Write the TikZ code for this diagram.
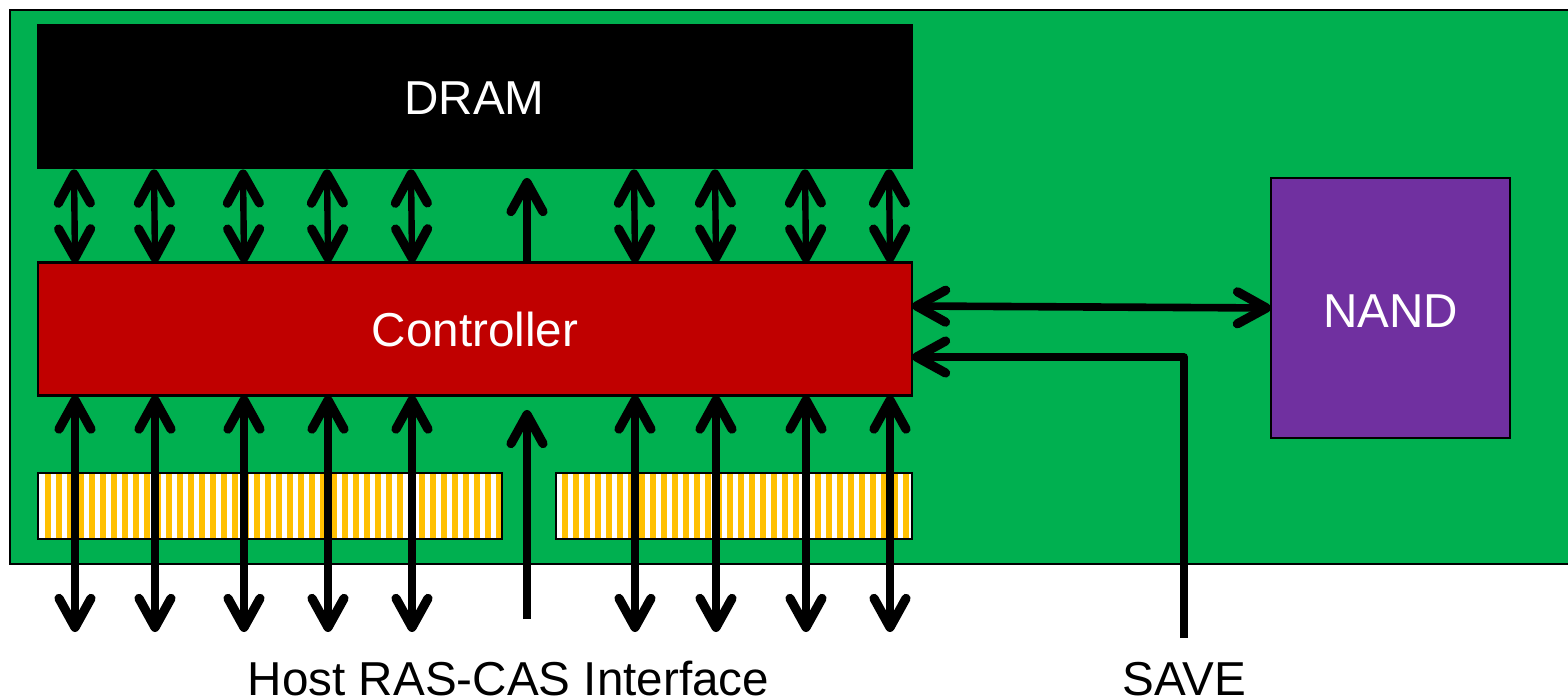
\documentclass[tikz,border=0pt]{standalone}
\usepackage{fontspec}
\setmainfont{Liberation Sans}
\usetikzlibrary{arrows.meta,calc}
\definecolor{boardgreen}{HTML}{00B050}
\definecolor{ctrlred}{HTML}{C00000}
\definecolor{nandpurple}{HTML}{7030A0}
\definecolor{pinorange}{HTML}{FFC000}
\tikzset{
  blockbox/.style={draw=black,line width=1.1pt,inner sep=0pt,outer sep=0pt,text=white,font=\fontsize{23.8}{28}\selectfont,anchor=center,text depth=0pt},
  pinbox/.style={inner sep=0pt,outer sep=0pt,anchor=center,fill=white},
  label/.style={inner sep=0pt,outer sep=0pt,text=black,font=\fontsize{23.8}{28}\selectfont,anchor=base},
  barb/.tip={Straight Barb[length=14.5pt,width=16pt,line width=4.6pt,round,sep=0pt]},
  conn/.style={line width=3.8pt,line join=round},
  short/.style={line width=3.2pt},
  single/.style={conn,-{barb}},
  double/.style={conn,{barb}-{barb}}
}
\begin{document}
\begin{tikzpicture}[x=0.5pt,y=-0.5pt]
\useasboundingbox (0,0) rectangle (1568,699);
% board
\node[blockbox,fill=boardgreen,minimum width=800pt,minimum height=277pt,anchor=north west] (board) at (10,10) {};
% blocks
\node[blockbox,fill=black,draw=none,minimum width=438pt,minimum height=72.5pt,text height=17.5pt] (dram) at (474.5,97) {DRAM};
\node[blockbox,fill=ctrlred,minimum width=437pt,minimum height=66.5pt,text height=17.7pt] (ctrl) at (475,329) {Controller};
\node[blockbox,fill=nandpurple,minimum width=119.5pt,minimum height=130pt,text height=19.2pt] (nand) at (1390.5,308) {NAND};
% pin strips
\node[pinbox,minimum width=232pt,minimum height=33pt] (pinl) at (270,506) {};
\node[pinbox,minimum width=178pt,minimum height=33pt] (pinr) at (734,506) {};
\begin{scope}
  \clip (pinl.north west) rectangle (pinl.south east);
  \foreach \i in {0,...,42} \fill[pinorange] ({45+11*\i},473) rectangle ({50.6+11*\i},539);
\end{scope}
\begin{scope}
  \clip (pinr.north west) rectangle (pinr.south east);
  \foreach \i in {0,...,32} \fill[pinorange] ({562.4+11*\i},473) rectangle ({568+11*\i},539);
\end{scope}
\draw[line width=1.1pt] (pinl.north west) rectangle (pinl.south east);
\draw[line width=1.1pt] (pinr.north west) rectangle (pinr.south east);
% connectors
\foreach \n/\xa/\xb in {a/74/75,b/154/155,c/243/244,d/327/328,e/411/412,f/634/635,g/715/716,h/805/806,i/889/890}{
  \coordinate (top\n) at (\xa,0);
  \coordinate (bot\n) at (\xb,0);
  \coordinate (out\n) at (\xb,632);
  \draw[double,short] (dram.south -| top\n) -- (ctrl.north -| bot\n);
  \draw[double] (ctrl.south -| bot\n) -- (out\n);
}
\coordinate (midup) at (527,0);
\coordinate (midtip) at (527,410);
\coordinate (midfoot) at (527,619);
\draw[single] (ctrl.north -| midup) -- (527,178) coordinate (midhead);
\draw[single] (midfoot) -- (midtip);
\coordinate (ctrlA) at (912,306);
\coordinate (nandA) at (nand.west |- 0,308);
\draw[double] (ctrlA) -- (nandA);
\coordinate (savefoot) at (1184,638);
\coordinate (saveport) at (912,357);
\draw[single] (savefoot) -- (1184,357) -- (saveport);
% labels
\node[label] (host) at (508.5,695) {Host RAS-CAS Interface};
\node[label] (save) at (1184,695) {SAVE};
\end{tikzpicture}
\end{document}
